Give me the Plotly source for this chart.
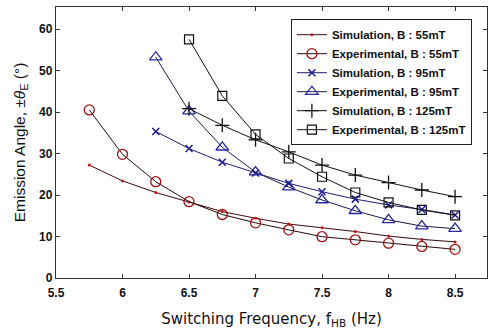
import plotly.graph_objects as go

freq = [5.75, 6.0, 6.25, 6.5, 6.75, 7.0, 7.25, 7.5, 7.75, 8.0, 8.25, 8.5]

sim_55 = [27.2, 23.4, 20.6, 18.3, 16.0, 14.4, 13.0, 12.1, 11.2, 10.1, 9.3, 8.7]
exp_55 = [40.5, 29.8, 23.2, 18.4, 15.3, 13.3, 11.6, 9.95, 9.2, 8.4, 7.6, 6.9]

freq_95 = [6.25, 6.5, 6.75, 7.0, 7.25, 7.5, 7.75, 8.0, 8.25, 8.5]
sim_95 = [35.3, 31.2, 27.9, 25.3, 22.8, 20.8, 19.0, 17.6, 16.5, 15.2]
exp_95 = [53.2, 40.2, 31.5, 25.5, 21.9, 18.8, 16.2, 14.0, 12.5, 11.9]

freq_125 = [6.5, 6.75, 7.0, 7.25, 7.5, 7.75, 8.0, 8.25, 8.5]
sim_125 = [40.8, 36.8, 33.3, 30.4, 27.2, 24.8, 23.0, 21.2, 19.6]
exp_125 = [57.5, 43.9, 34.6, 28.8, 24.4, 20.6, 18.2, 16.4, 15.1]

x_ticks = [5.5, 6, 6.5, 7, 7.5, 8, 8.5]
x_tick_text = ["5.5", "6", "6.5", "7", "7.5", "8", "8.5"]
y_ticks = [0, 10, 20, 30, 40, 50, 60]

names = ["Simulation, B : 55mT", "Experimental, B : 55mT",
         "Simulation, B : 95mT", "Experimental, B : 95mT",
         "Simulation, B : 125mT", "Experimental, B : 125mT"]

FONT = "Liberation Sans, Arial"

fig = go.Figure()

fig.add_trace(go.Scatter(x=freq, y=sim_55, name=names[0], mode="lines+markers",
                         line=dict(color="#3a0c0c", width=1),
                         marker=dict(symbol="circle", size=3, color="#c01818")))
fig.add_trace(go.Scatter(x=freq, y=exp_55, name=names[1], mode="lines+markers",
                         line=dict(color="#2a0808", width=1),
                         marker=dict(symbol="circle-open", size=10, color="#a01010",
                                     line=dict(width=1.3, color="#a01010"))))
fig.add_trace(go.Scatter(x=freq_95, y=sim_95, name=names[2], mode="lines+markers",
                         line=dict(color="#1e1e70", width=1),
                         marker=dict(symbol="x-thin-open", size=7, color="#1a1a90",
                                     line=dict(width=1.5, color="#1a1a90"))))
fig.add_trace(go.Scatter(x=freq_95, y=exp_95, name=names[3], mode="lines+markers",
                         line=dict(color="#1a1a50", width=1),
                         marker=dict(symbol="triangle-up-open", size=11, color="#2a2aa0",
                                     line=dict(width=1.3, color="#2a2aa0"))))
fig.add_trace(go.Scatter(x=freq_125, y=sim_125, name=names[4], mode="lines+markers",
                         line=dict(color="#111111", width=1),
                         marker=dict(symbol="cross-thin-open", size=10, color="#111111",
                                     line=dict(width=1.3, color="#111111"))))
fig.add_trace(go.Scatter(x=freq_125, y=exp_125, name=names[5], mode="lines+markers",
                         line=dict(color="#111111", width=1),
                         marker=dict(symbol="square-open", size=9, color="#111111",
                                     line=dict(width=1.2, color="#111111"))))

axis_common = dict(showline=True, linecolor="#333333", linewidth=1.3, mirror="ticks",
                   ticks="inside", ticklen=4, tickcolor="#333333", tickwidth=1,
                   showgrid=False, zeroline=False, automargin=False,
                   tickfont=dict(family=FONT, size=12, color="#111111", weight="bold"))

fig.update_layout(
    width=488, height=334,
    margin=dict(l=56, r=1, t=7, b=56),
    plot_bgcolor="white", paper_bgcolor="white",
    xaxis=dict(range=[5.5, 8.74], tickvals=x_ticks, ticktext=x_tick_text,
               ticklabelstandoff=3,
               title=dict(text="Switching Frequency, f<sub>HB</sub> (Hz)", standoff=14,
                          font=dict(family="DejaVu Sans", size=15, color="#111111")),
               **axis_common),
    yaxis=dict(range=[0, 65.3], tickvals=y_ticks,
               title=dict(text="Emission Angle, ±<i>θ</i><sub>E</sub> (°)", standoff=9,
                          font=dict(family=FONT, size=15.5, color="#111111")),
               **axis_common),
    legend=dict(x=0.545, y=0.955, xanchor="left", yanchor="top",
                bgcolor="white", bordercolor="#222222", borderwidth=1,
                font=dict(family=FONT, size=11.5, color="#111111", weight="bold"),
                tracegroupgap=0, itemwidth=30),
    showlegend=True,
)

fig.write_html("out.html", config={"displayModeBar": False},
               post_script="document.body.style.margin='0';document.body.style.padding='0';")
